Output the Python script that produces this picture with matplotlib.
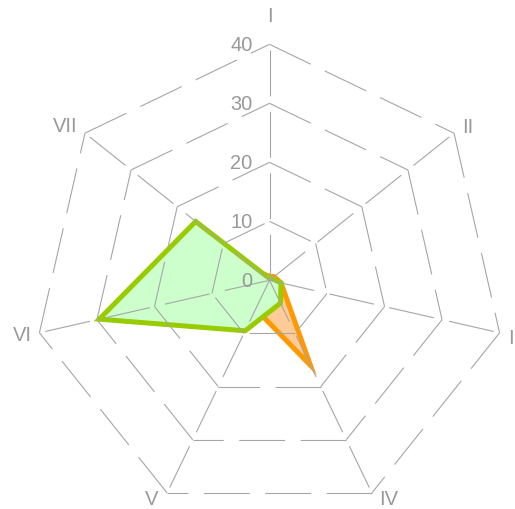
import numpy as np
import matplotlib.pyplot as plt

plt.rcParams['font.family'] = ['Liberation Sans', 'DejaVu Sans']
plt.rcParams['lines.scale_dashes'] = False

axis_labels = ["I", "II", "III", "IV", "V", "VI", "VII"]
ring_values = [0, 10, 20, 30, 40]
ring_labels = ["0", "10", "20", "30", "40"]

# series values, axis order I..VII
orange_vals = [0.7, 1.0, 2.0, 16.0, 5.4, 3.0, 2.0]
green_vals = [0.3, 0.5, 2.0, 4.3, 9.5, 29.6, 16.0]

# label offsets in pixels (dx, dy) from outer vertex, baseline aligned
label_off = [(0, 22), (8, 0), (9, -11), (7, -12), (-9, -12), (-8, -8), (-7, 1)]

gray = '#a6a6a6'
txt_gray = '#999999'

n = len(axis_labels)
theta = np.arange(n) * 2 * np.pi / n


def to_xy(vals):
    r = np.asarray(vals, dtype=float)
    return r * np.sin(theta), r * np.cos(theta)


W, H = 515, 509
cx, cy = 269.5, 280.3
ppu = 236.0 / 40.0

fig = plt.figure(figsize=(W / 100, H / 100), dpi=100)
ax = fig.add_axes([0, 0, 1, 1])
ax.axis('off')
ax.set_xlim(-cx / ppu, (W - cx) / ppu)
ax.set_ylim(-(H - cy) / ppu, cy / ppu)

# series (orange under green)
xo, yo = to_xy(orange_vals)
ax.fill(xo, yo, facecolor='#ffcc99', edgecolor='#ff9900', linewidth=3.6,
        joinstyle='miter', zorder=1)
xg, yg = to_xy(green_vals)
ax.fill(xg, yg, facecolor='#ccffcc', edgecolor='#99cc00', linewidth=3.6,
        joinstyle='miter', zorder=2)

# grid, each edge dashed on its own
dash = (33.0, 11.2)
for r in ring_values[1:]:
    xs, ys = to_xy([r] * n)
    for i in range(n):
        j = (i + 1) % n
        ax.plot([xs[i], xs[j]], [ys[i], ys[j]], color=gray, lw=0.8,
                dashes=dash, zorder=3)
xs, ys = to_xy([ring_values[-1]] * n)
for i in range(n):
    ax.plot([0, xs[i]], [0, ys[i]], color=gray, lw=0.8, dashes=dash, zorder=3)

# ring labels
for v, lab in zip(ring_values, ring_labels):
    ax.annotate(lab, (0, v), xytext=(-17, -7), textcoords='offset pixels',
                ha='right', va='baseline', fontsize=14.4, color=txt_gray, zorder=4)

# axis labels
for i, lab in enumerate(axis_labels):
    s = np.sin(theta[i])
    ha = 'center' if abs(s) < 0.1 else ('left' if s > 0 else 'right')
    ax.annotate(lab, (xs[i], ys[i]), xytext=label_off[i], textcoords='offset pixels',
                ha=ha, va='baseline', fontsize=14.5, color=txt_gray, zorder=4)

fig.savefig('out.png', dpi=100)
